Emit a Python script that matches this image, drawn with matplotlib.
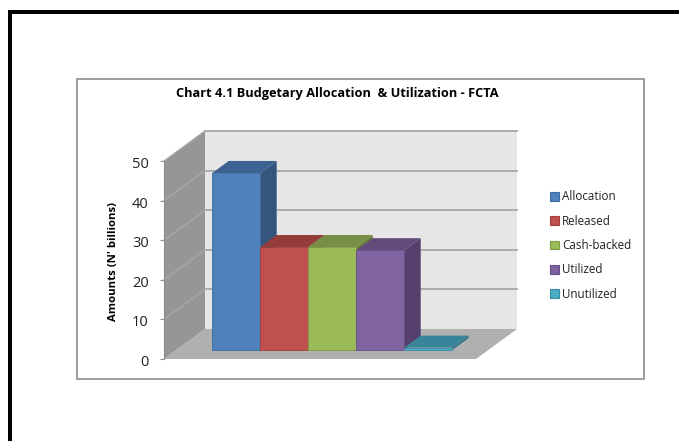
import matplotlib
matplotlib.use('Agg')
import matplotlib.pyplot as plt
from matplotlib.patches import Patch, Polygon, Rectangle
from matplotlib.transforms import ScaledTranslation

categories = ['Allocation', 'Released', 'Cash-backed', 'Utilized', 'Unutilized']
amounts = [44.7, 26.0, 26.0, 25.2, 0.6]
y_ticks = [0, 10, 20, 30, 40, 50]

front = ['#4f81bd', '#c0504d', '#9bbb59', '#8064a2', '#4bacc6']
edge = ['#3d6a9e', '#a03f3c', '#7f9a48', '#684f87', '#3a8ca3']
top = ['#3c6291', '#943c3a', '#778f44', '#624c7c', '#39849a']
side = ['#34557e', '#813432', '#677d3b', '#553f6c', '#327385']

W, H = 679, 441
# oblique projection, depth 0..1 goes back into the chart
DX = 41 / 48
DY = 30 / 3.96
BAR_D0, BAR_D1 = 0.3, 0.7
FLOOR_W = 6.5


def proj(c, v, d):
    return c + d * DX, v + d * DY


def poly(ax, pts, color, ec='none', lw=0, z=1):
    ax.add_patch(Polygon([proj(*p) for p in pts], closed=True, fc=color, ec=ec,
                         lw=lw, zorder=z, clip_on=False))


plt.rcParams['font.family'] = ['Open Sans', 'DejaVu Sans']
fig = plt.figure(figsize=(W / 100, H / 100), dpi=100)

# page border and chart box, in pixels from top left
def page_rect(x0, y0, x1, y1, **kw):
    fig.add_artist(Rectangle((x0 / W, 1 - y1 / H), (x1 - x0) / W, (y1 - y0) / H,
                             transform=fig.transFigure, zorder=-1, **kw))


page_rect(8, 10, 12, 441, fc='black', ec='none')
page_rect(8, 10, 679, 14, fc='black', ec='none')
page_rect(76.5, 78.5, 643.5, 379, fc='white', ec='#8c8c8c', lw=1.2)

ax = fig.add_axes([164 / W, 1 - 359 / H, 48 * FLOOR_W / W, 198 / H])
ax.set_xlim(0, FLOOR_W)
ax.set_ylim(0, 50)
ax.patch.set_visible(False)
for s in ['top', 'right', 'bottom']:
    ax.spines[s].set_visible(False)
ax.spines['left'].set_color('#8c8c8c')
ax.spines['left'].set_linewidth(0.8)
ax.set_xticks([])
ax.set_yticks(y_ticks)
ax.tick_params(axis='y', length=3, width=0.8, color='#8c8c8c', labelsize=10.5,
               labelcolor='#222222', pad=8)
shift = ScaledTranslation(0, -1.5 / 100, fig.dpi_scale_trans)
for lab in ax.get_yticklabels():
    lab.set_transform(lab.get_transform() + shift)
ax.set_ylabel("Amounts (N' billions)", fontsize=8.2, fontweight='bold', labelpad=9, y=0.49)

# walls and floor
poly(ax, [(0, 0, 0), (FLOOR_W, 0, 0), (FLOOR_W, 0, 1), (0, 0, 1)], '#b0b0b0')
poly(ax, [(0, 0, 0), (0, 0, 1), (0, 50, 1), (0, 50, 0)], '#969696')
poly(ax, [(0, 0, 1), (FLOOR_W, 0, 1), (FLOOR_W, 50, 1), (0, 50, 1)], '#e6e6e6')

# grid lines on side and back wall
for t in y_ticks[1:]:
    xs, ys = zip(proj(0, t, 0), proj(0, t, 1), proj(FLOOR_W, t, 1))
    ax.plot(xs[:2], ys[:2], color='#a8a8a8', lw=1, zorder=2, clip_on=False)
    ax.plot(xs[1:], ys[1:], color='#a6a6a6', lw=1.3, zorder=2, clip_on=False)

# bars, left to right so each one covers the side of the next
for i, (val, f, e, t, s) in enumerate(zip(amounts, front, edge, top, side)):
    c0 = i + 0.75
    c1 = c0 + 1
    z = 3 + i
    poly(ax, [(c1, 0, BAR_D0), (c1, 0, BAR_D1), (c1, val, BAR_D1), (c1, val, BAR_D0)], s, z=z)
    poly(ax, [(c0, val, BAR_D0), (c1, val, BAR_D0), (c1, val, BAR_D1), (c0, val, BAR_D1)], t, z=z)
    poly(ax, [(c0, 0, BAR_D0), (c1, 0, BAR_D0), (c1, val, BAR_D0), (c0, val, BAR_D0)], f,
         ec=e, lw=0.6, z=z + 0.5)

handles = [Patch(fc=f, ec=e, lw=0.8, label=n) for n, f, e in zip(categories, front, edge)]
fig.legend(handles=handles, loc='center left', bbox_to_anchor=(550 / W, 1 - 245.5 / H),
           frameon=False, fontsize=8.4, handlelength=0.75, handleheight=0.75,
           handletextpad=0.3, labelspacing=0.97, borderpad=0, borderaxespad=0,
           labelcolor='#222222')

fig.text(337 / W, 1 - 94 / H, 'Chart 4.1 Budgetary Allocation  & Utilization - FCTA',
         ha='center', va='center', fontsize=9.2, fontweight='bold', color='black')

fig.savefig('out.png', dpi=100)
